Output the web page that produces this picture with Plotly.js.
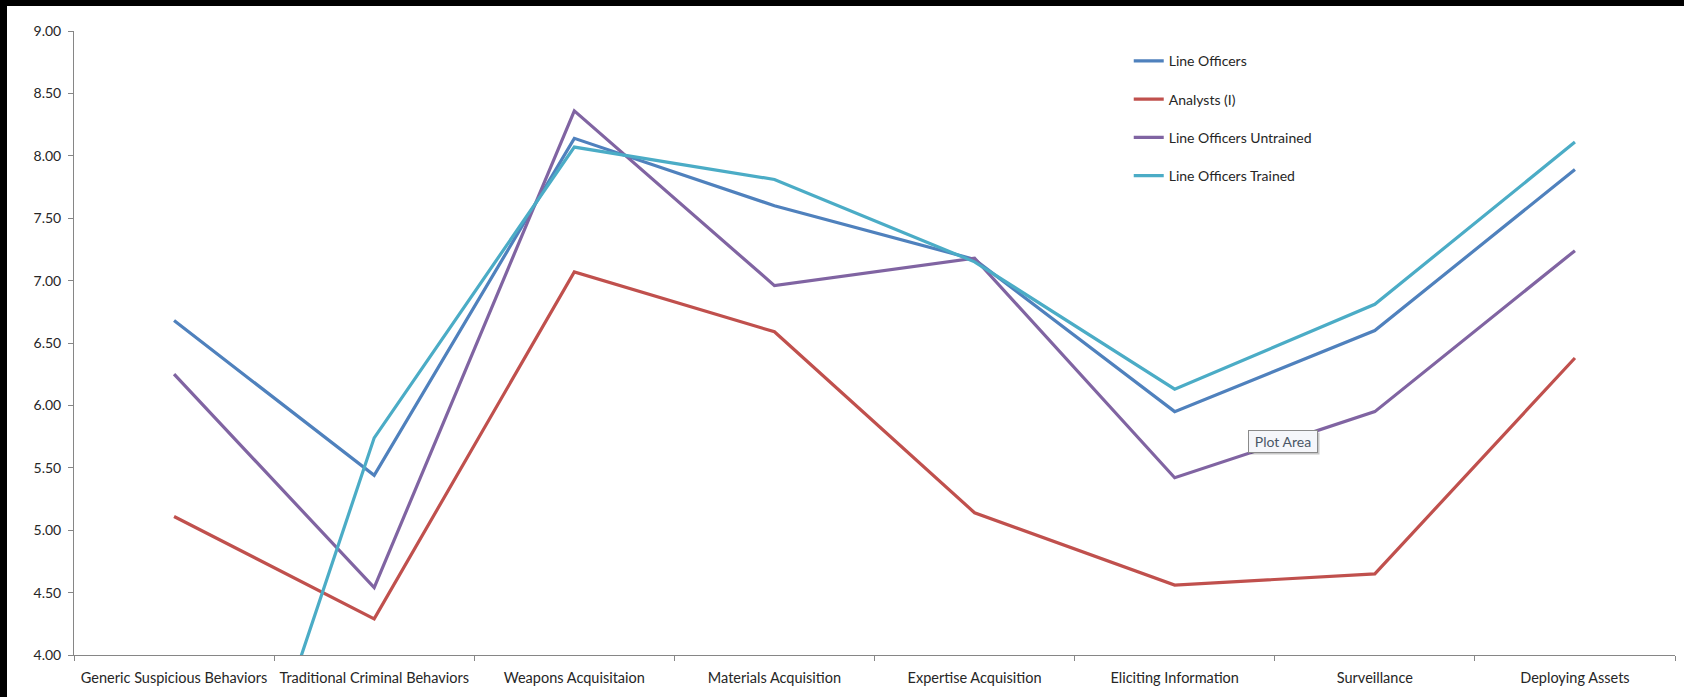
<!DOCTYPE html>
<html>
<head>
<meta charset="utf-8">
<script src="https://cdn.plot.ly/plotly-3.0.1.min.js"></script>
<style>
  html, body { margin: 0; padding: 0; background: #000; }
  #chart { position: absolute; left: 7px; top: 6px; width: 1677px; height: 691px; background: #fff; }
</style>
</head>
<body>
<div id="chart"></div>
<script>
const categories = [
  "Generic Suspicious Behaviors",
  "Traditional Criminal Behaviors",
  "Weapons Acquisitaion",
  "Materials Acquisition",
  "Expertise Acquisition",
  "Eliciting Information",
  "Surveillance",
  "Deploying Assets"
];
const lineOfficers          = [6.68, 5.44, 8.14, 7.60, 7.17, 5.95, 6.60, 7.89];
const analysts              = [5.11, 4.29, 7.07, 6.59, 5.14, 4.56, 4.65, 6.38];
const lineOfficersUntrained = [6.25, 4.54, 8.36, 6.96, 7.18, 5.42, 5.95, 7.24];
const lineOfficersTrained   = [0.95, 5.74, 8.07, 7.81, 7.15, 6.13, 6.81, 8.11];
const seriesNames = ["Line Officers", "Analysts (I)", "Line Officers Untrained", "Line Officers Trained"];
const seriesColors = ["#4F81BD", "#C0504D", "#8064A2", "#4BACC6"];
const yTicks = [4.0, 4.5, 5.0, 5.5, 6.0, 6.5, 7.0, 7.5, 8.0, 8.5, 9.0];

const allSeries = [lineOfficers, analysts, lineOfficersUntrained, lineOfficersTrained];
const traces = allSeries.map((vals, i) => ({
  type: "scatter",
  mode: "lines",
  x: categories,
  y: vals,
  name: seriesNames[i],
  legendgroup: "g" + i,
  line: { color: seriesColors[i], width: 3.2 },
  hoverinfo: "skip"
}));

const fontFam = "Lato, 'Open Sans', sans-serif";
const layout = {
  width: 1677,
  height: 691,
  margin: { l: 67, r: 9, t: 25, b: 42 },
  paper_bgcolor: "#ffffff",
  plot_bgcolor: "#ffffff",
  font: { family: fontFam, size: 14, color: "#262626" },
  showlegend: true,
  legend: {
    x: 0.6588, y: 0.977, xanchor: "left", yanchor: "top",
    xref: "paper", yref: "paper",
    bgcolor: "rgba(0,0,0,0)",
    font: { family: fontFam, size: 14, color: "#262626" },
    tracegroupgap: 17,
    traceorder: "grouped"
  },
  xaxis: {
    type: "category",
    range: [-0.5, 7.5],
    showline: true, linecolor: "#868686", linewidth: 1,
    ticks: "outside", ticklen: 5, tickcolor: "#868686", tickwidth: 1,
    tickson: "boundaries",
    showgrid: false, zeroline: false,
    tickangle: 0,
    ticklabelstandoff: 10,
    tickfont: { family: fontFam, size: 14.5, color: "#262626" },
    fixedrange: true
  },
  yaxis: {
    range: [4, 9],
    tickmode: "array",
    tickvals: yTicks,
    ticktext: yTicks.map(v => v.toFixed(2)),
    showline: true, linecolor: "#868686", linewidth: 1,
    ticks: "outside", ticklen: 5, tickcolor: "#868686", tickwidth: 1,
    showgrid: false, zeroline: false,
    ticklabelstandoff: 4,
    tickfont: { family: fontFam, size: 14, color: "#262626" },
    fixedrange: true
  },
  annotations: [
    {
      xref: "paper", yref: "paper", x: 0.7552, y: 0.3418,
      xanchor: "center", yanchor: "middle",
      xshift: 2, yshift: -2,
      text: " ", showarrow: false,
      width: 68, height: 21, borderpad: 0, borderwidth: 1,
      bgcolor: "rgba(0,0,0,0.22)", bordercolor: "rgba(0,0,0,0)"
    },
    {
      xref: "paper", yref: "paper", x: 0.7552, y: 0.3418,
      xanchor: "center", yanchor: "middle",
      text: "Plot Area", showarrow: false,
      width: 68, height: 21, borderpad: 0, borderwidth: 1,
      bgcolor: "#f5f6fa", bordercolor: "#8a8a8a",
      font: { family: fontFam, size: 14, color: "#4a5666" }
    }
  ]
};

Plotly.newPlot("chart", traces, layout, { displayModeBar: false, staticPlot: true });
</script>
</body>
</html>
